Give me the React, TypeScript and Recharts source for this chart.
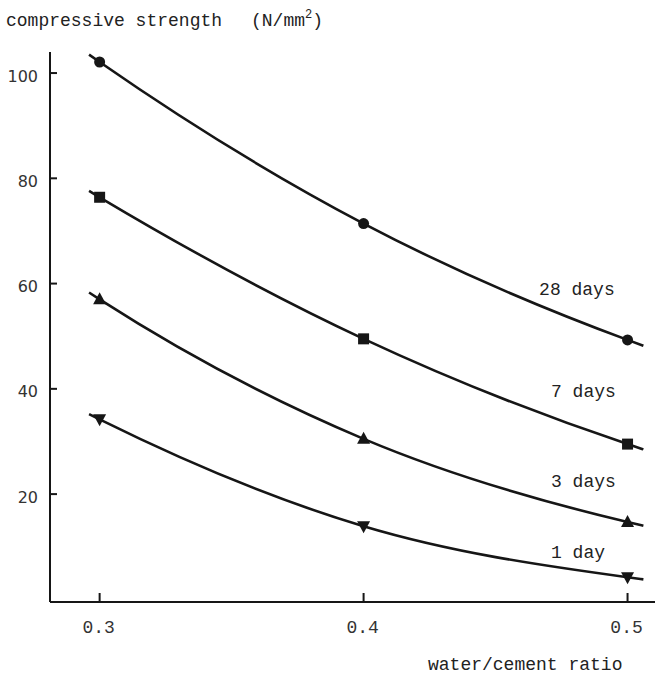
import React from "react";
import { ComposedChart, Line, Scatter, XAxis, YAxis, ReferenceDot } from "recharts";

// water/cement ratio on the x axis
const ratios = [0.3, 0.4, 0.5];

// compressive strength (N/mm2) per curing age
const days28 = [102.1, 71.4, 49.3];
const days7 = [76.4, 49.5, 29.5];
const days3 = [57.0, 30.5, 14.7];
const days1 = [34.2, 13.9, 4.2];

// the drawn curves run a little past the outer points
const curveFrom = 0.296;
const curveTo = 0.506;
const curveStart = [103.5, 77.6, 58.3, 35.2];
const curveEnd = [48.2, 28.5, 14.0, 3.8];

const ageLabels = ["28 days", "7 days", "3 days", "1 day"];
const labelX = [0.4665, 0.471, 0.471, 0.471];
const labelY = [57.8, 38.4, 21.3, 7.8];

const yTicks = [20, 40, 60, 80, 100];
const xTicks = [0.3, 0.4, 0.5];

const ink = "#161616";
const mono = "'Liberation Mono', 'DejaVu Sans Mono', monospace";

const series = [days28, days7, days3, days1];
const markers = ["circle", "square", "up", "down"];

function Marker(props: any) {
  const { cx, cy, kind } = props;
  if (cx == null || cy == null) return null;
  if (kind === "circle") return <circle cx={cx} cy={cy} r={5.5} fill={ink} />;
  if (kind === "square") return <rect x={cx - 5.5} y={cy - 5.5} width={11} height={11} fill={ink} />;
  if (kind === "up")
    return <polygon points={`${cx},${cy - 7} ${cx - 6.5},${cy + 5} ${cx + 6.5},${cy + 5}`} fill={ink} />;
  return <polygon points={`${cx},${cy + 7} ${cx - 6.5},${cy - 5} ${cx + 6.5},${cy - 5}`} fill={ink} />;
}

function YTick(props: any) {
  const { x, y, payload } = props;
  return (
    <g>
      <line x1={x} x2={x + 7} y1={y} y2={y} stroke={ink} strokeWidth={2} />
      <text x={x - 12} y={y + 8.5} textAnchor="end" fontFamily="'DejaVu Sans', sans-serif" fontSize={16} fill="#333">
        {payload.value}
      </text>
    </g>
  );
}

function XTick(props: any) {
  const { x, y, payload } = props;
  return (
    <g>
      <line x1={x} x2={x} y1={y} y2={y - 9} stroke={ink} strokeWidth={2} />
      <text x={x - 1} y={y + 31} textAnchor="middle" fontFamily={mono} fontSize={18} fill="#333">
        {payload.value.toFixed(1)}
      </text>
    </g>
  );
}

export default function App() {
  return (
    <div style={{ position: "absolute", left: 0, top: 0, width: 655, height: 677, background: "#fff" }}>
      <ComposedChart width={655} height={677} margin={{ top: 52, right: 0, bottom: 0, left: 0 }}>
        <XAxis
          type="number"
          dataKey="x"
          domain={[0.2812, 0.5104]}
          allowDataOverflow
          ticks={xTicks}
          height={75}
          tickSize={0}
          tickMargin={0}
          tickLine={false}
          axisLine={{ stroke: ink, strokeWidth: 2 }}
          tick={<XTick />}
        />
        <YAxis
          type="number"
          dataKey="y"
          domain={[-0.5, 104]}
          allowDataOverflow
          ticks={yTicks}
          width={50}
          tickSize={0}
          tickMargin={0}
          tickLine={false}
          axisLine={{ stroke: ink, strokeWidth: 2 }}
          tick={<YTick />}
        />
        {series.map((vals, i) => (
          <Line
            key={"curve" + i}
            type="monotone"
            data={[
              { x: curveFrom, y: curveStart[i] },
              ...ratios.map((r, j) => ({ x: r, y: vals[j] })),
              { x: curveTo, y: curveEnd[i] },
            ]}
            dataKey="y"
            stroke={ink}
            strokeWidth={2.6}
            dot={false}
            activeDot={false}
            isAnimationActive={false}
          />
        ))}
        {series.map((vals, i) => (
          <Scatter
            key={"pts" + i}
            data={ratios.map((r, j) => ({ x: r, y: vals[j] }))}
            dataKey="y"
            shape={(p: any) => <Marker cx={p.cx} cy={p.cy} kind={markers[i]} />}
            isAnimationActive={false}
          />
        ))}
        {ageLabels.map((label, i) => (
          <ReferenceDot
            key={label}
            x={labelX[i]}
            y={labelY[i]}
            r={0}
            shape={(p: any) => (
              <text x={p.cx} y={p.cy} fontFamily={mono} fontSize={18} fill="#222">
                {label}
              </text>
            )}
          />
        ))}
      </ComposedChart>
      <svg width={655} height={677} style={{ position: "absolute", left: 0, top: 0, pointerEvents: "none" }}>
        <text x={6} y={26} fontFamily={mono} fontSize={18} fill="#222">
          compressive strength
        </text>
        <text x={251} y={26} fontFamily={mono} fontSize={18} fill="#222">
          (N/mm
          <tspan fontSize={12} dy={-8}>2</tspan>
          <tspan dy={8}>)</tspan>
        </text>
        <text x={428} y={670} fontFamily={mono} fontSize={18} fill="#222">
          water/cement ratio
        </text>
      </svg>
    </div>
  );
}
